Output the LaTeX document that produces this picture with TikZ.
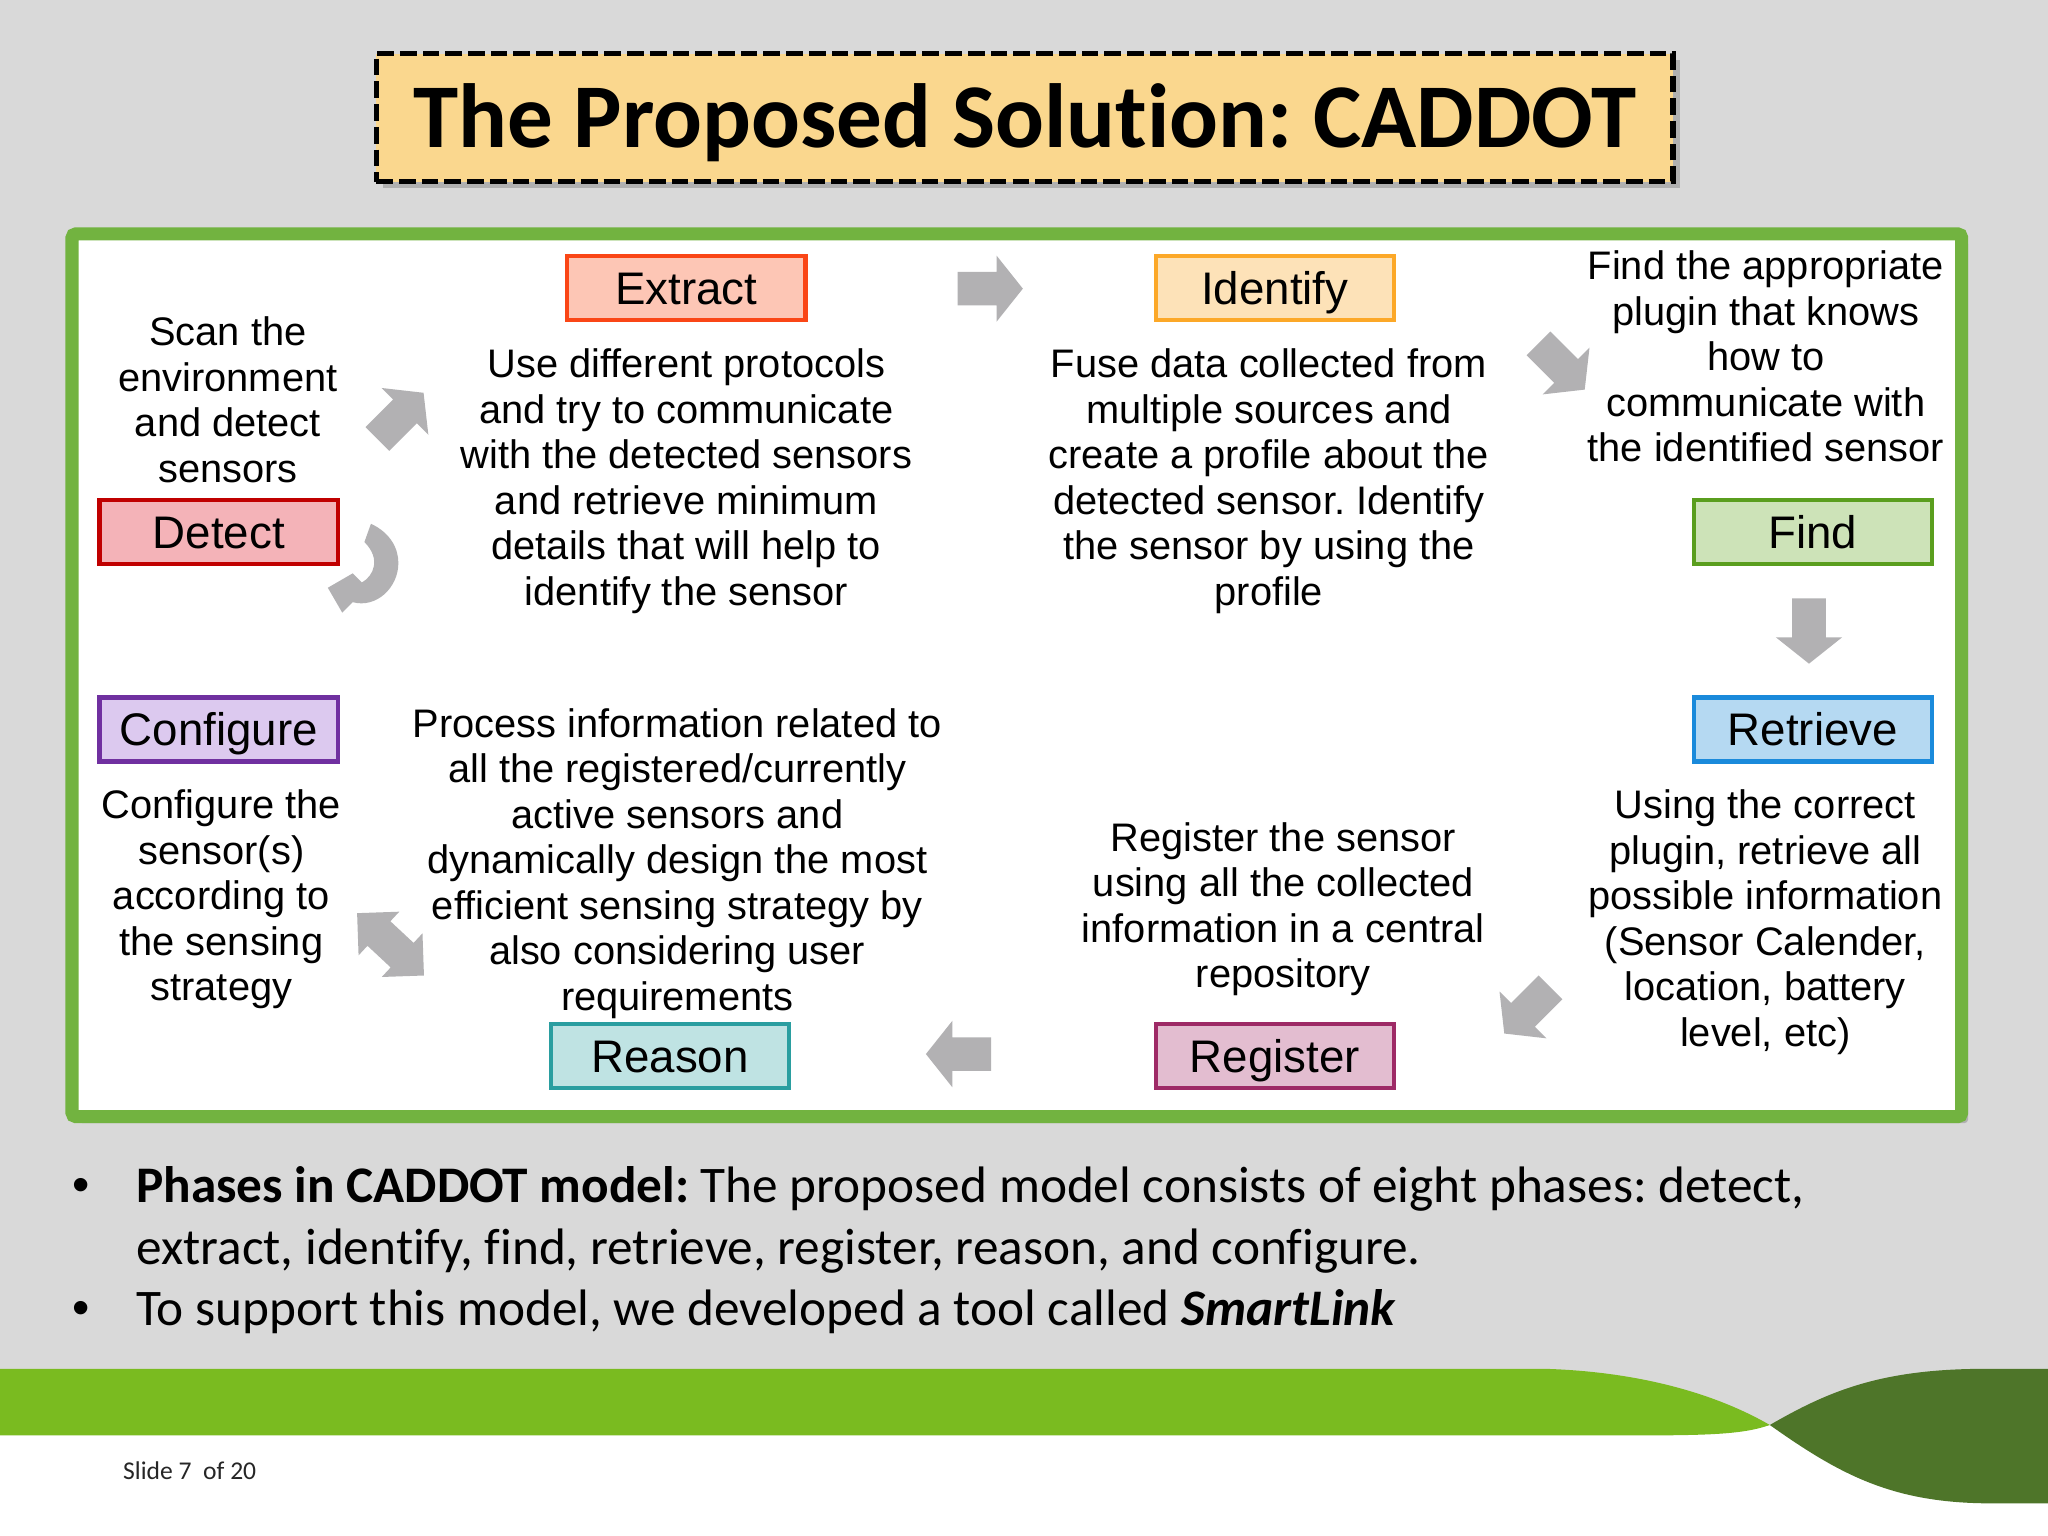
\documentclass[tikz,border=0pt]{standalone}
\usepackage{fontspec}
\setmainfont{Liberation Sans}
\newfontfamily\carlito[Ligatures=NoCommon]{Carlito}
\usetikzlibrary{positioning, arrows.meta, shapes, shadows}
\frenchspacing
\definecolor{slidegray}{HTML}{D9D9D9}
\definecolor{panelgreen}{HTML}{72B340}
\definecolor{bandgreen}{HTML}{7ABB20}
\definecolor{darkgreen}{HTML}{4E7529}
\definecolor{titlefill}{HTML}{FAD78E}
\definecolor{arrowgray}{HTML}{B2B1B3}
\definecolor{detectline}{HTML}{C00000}
\definecolor{detectfill}{HTML}{F4B3B8}
\definecolor{extractline}{HTML}{FA4616}
\definecolor{extractfill}{HTML}{FDC6B5}
\definecolor{identifyline}{HTML}{FCA828}
\definecolor{identifyfill}{HTML}{FDE2B8}
\definecolor{findline}{HTML}{5A9E1E}
\definecolor{findfill}{HTML}{CDE3B8}
\definecolor{retrieveline}{HTML}{1A8ADB}
\definecolor{retrievefill}{HTML}{B5D9F2}
\definecolor{registerline}{HTML}{9E2A66}
\definecolor{registerfill}{HTML}{E3BDD0}
\definecolor{reasonline}{HTML}{2A9EA0}
\definecolor{reasonfill}{HTML}{BFE3E3}
\definecolor{configline}{HTML}{7030A0}
\definecolor{configfill}{HTML}{DCC9EF}
\tikzset{
  phase/.style 2 args={draw=#1, fill=#2, line width=0.065cm, minimum width=3.65cm, minimum height=0.98cm, inner sep=0pt,
    text height=0.62cm, text depth=0.12cm, font=\fontsize{19.9}{22}\selectfont},
  info/.style={align=center, inner sep=0pt, font=\fontsize{17.35}{19.84}\selectfont},
  blockarrow/.style={single arrow, fill=arrowgray, minimum height=1cm, minimum width=1cm, inner xsep=0pt, inner ysep=0.25cm,
    single arrow head extend=0.25cm, single arrow tip angle=103, single arrow head indent=0pt},
  bothways/.style={double arrow, fill=arrowgray, minimum height=1.4cm, minimum width=0.9cm, inner xsep=0pt, inner ysep=0.25cm,
    double arrow head extend=0.2cm, double arrow tip angle=90},
  softshadow/.style={drop shadow={shadow xshift=0.1cm, shadow yshift=-0.1cm, opacity=0.45}},
  bulletline/.style={anchor=base west, inner sep=0pt, font=\carlito\fontsize{22.35}{26.7}\selectfont},
  bulletdot/.style={anchor=base, inner sep=0pt, font=\fontsize{21.5}{26.7}\selectfont}
}
\begin{document}
\begin{tikzpicture}[x=0.02cm, y=-0.02cm]
    \useasboundingbox (0,0) rectangle (1568,1176);
    % Draw slide background and footer
    \fill[slidegray] (0,0) rectangle (1568,1176);
    \fill[white] (0,1091) rectangle (1568,1176);
    \fill[bandgreen] (0,1048) -- (1183,1048) .. controls (1250,1050) and (1310,1065) .. (1355,1091)
        .. controls (1335,1098) and (1310,1099) .. (1250,1099) -- (0,1099) -- cycle;
    \fill[darkgreen] (1355,1091) .. controls (1400,1065) and (1440,1048) .. (1520,1048) -- (1568,1048) -- (1568,1151)
        -- (1525,1151) .. controls (1450,1151) and (1410,1130) .. (1355,1091) -- cycle;
    \node[anchor=base west, inner sep=0pt, font=\carlito\fontsize{11.15}{12}\selectfont, text=black!85] (slidenum) at (94,1133) {Slide 7\ \ of 20};

    % Draw title
    \node[draw=black, fill=titlefill, line width=0.08cm, dash pattern=on 0.256cm off 0.092cm, minimum width=19.86cm, minimum height=1.96cm,
        text height=1.2cm, text depth=0.28cm, softshadow,
        font=\carlito\bfseries\fontsize{39.7}{44}\selectfont] (title) at (784.5,90) {The Proposed Solution: CADDOT};

    % Draw main panel
    \node[draw=panelgreen, fill=white, line width=0.2cm, rounded corners=0.06cm, minimum width=28.94cm, minimum height=13.52cm,
        softshadow] (panel) at (778.5,517) {};

    % Draw phases
    \node[phase={detectline}{detectfill}] (detect) at (167.5,407.5) {Detect};
    \node[phase={extractline}{extractfill}] (extract) at (525.5,220.5) {Extract};
    \node[phase={identifyline}{identifyfill}] (identify) at (976,220.5) {Identify};
    \node[phase={findline}{findfill}] (find) at (1388,407.5) {Find};
    \node[phase={retrieveline}{retrievefill}] (retrieve) at (1388,558.5) {Retrieve};
    \node[phase={registerline}{registerfill}] (register) at (976,808.5) {Register};
    \node[phase={reasonline}{reasonfill}] (reason) at (513,808.5) {Reason};
    \node[phase={configline}{configfill}] (configure) at (167.5,558.5) {Configure};

    % Draw descriptions
    \node[info] (detecttext) at (174.5,306) {Scan the\\environment\\and detect\\sensors};
    \node[info] (extracttext) at (525.5,368.5) {Use different protocols\\and try to communicate\\with the detected sensors\\and retrieve minimum\\details that will help to\\identify the sensor};
    \node[info] (identifytext) at (971.5,368.5) {Fuse data collected from\\multiple sources and\\create a profile about the\\detected sensor. Identify\\the sensor by using the\\profile};
    \node[info] (findtext) at (1352,273) {Find the appropriate\\plugin that knows\\how to\\communicate with\\the identified sensor};
    \node[info] (retrievetext) at (1351.5,706) {Using the correct\\plugin, retrieve all\\possible information\\(Sensor Calender,\\location, battery\\level, etc)};
    \node[info] (registertext) at (982.5,696) {Register the sensor\\using all the collected\\information in a central\\repository};
    \node[info] (reasontext) at (518.5,661) {Process information related to\\all the registered/currently\\active sensors and\\dynamically design the most\\efficient sensing strategy by\\also considering user\\requirements};
    \node[info] (configuretext) at (169.5,688.5) {Configure the\\sensor(s)\\according to\\the sensing\\strategy};

    % Draw arrows between phases
    \node[blockarrow, rotate=45] (detecttoextract) at (303,322) {};
    \node[blockarrow] (extracttoidentify) at (753,221) {};
    \node[blockarrow, rotate=-45] (identifytofind) at (1192,277) {};
    \node[blockarrow, rotate=-90] (findtoretrieve) at (1385,478) {};
    \node[blockarrow, rotate=225] (retrievetoregister) at (1173,770) {};
    \node[blockarrow, rotate=180] (registertoreason) at (739,807) {};
    \node[bothways, rotate=-43] (reasontoconfigure) at (299,723) {};
    \fill[arrowgray] (284,401) .. controls (299,408) and (305,420) .. (305,431) .. controls (305,450) and (288,466) .. (270,461)
        -- (262,469) -- (251,450) -- (270,439) -- (277,446) .. controls (286,441) and (292,428) .. (279,415) -- cycle;

    % Draw bullet list
    \node[bulletdot] (dotone) at (62,920) {•};
    \node[bulletdot] (dottwo) at (62,1014) {•};
    \node[bulletline] (lineone) at (104,921) {\textbf{Phases in CADDOT model:} The proposed model consists of eight phases: detect,};
    \node[bulletline] (linetwo) at (104,968) {extract, identify, find, retrieve, register, reason, and configure.};
    \node[bulletline] (linethree) at (104,1015) {To support this model, we developed a tool called \textbf{\textit{SmartLink}}};
\end{tikzpicture}
\end{document}
